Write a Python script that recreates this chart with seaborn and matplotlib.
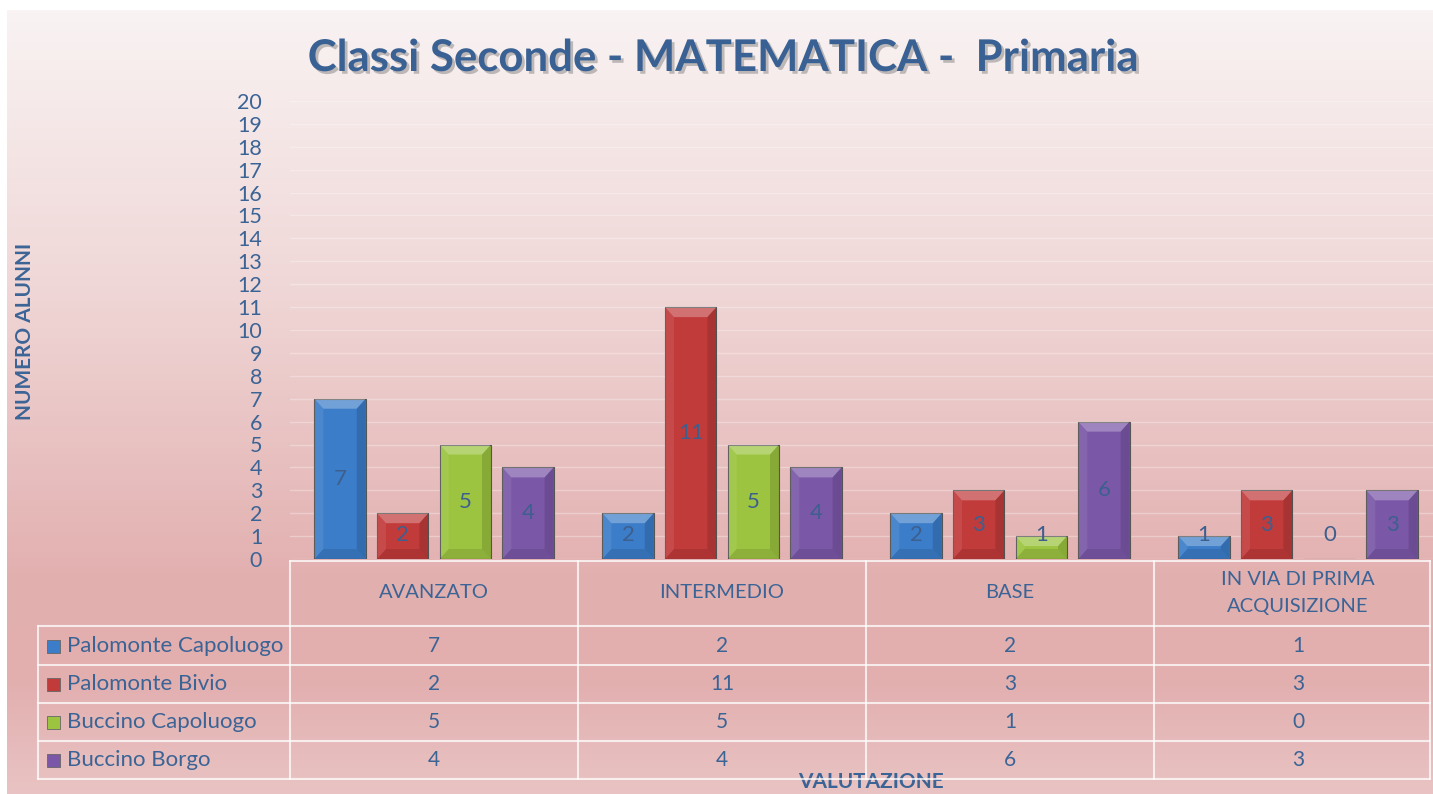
import matplotlib
matplotlib.use("Agg")
import matplotlib.pyplot as plt
import matplotlib.patheffects as pe
from matplotlib.patches import Polygon, Rectangle
from matplotlib.colors import LinearSegmentedColormap
from matplotlib.transforms import blended_transform_factory
import numpy as np
import pandas as pd
import seaborn as sns

categories = ["AVANZATO", "INTERMEDIO", "BASE", "IN VIA DI PRIMA\nACQUISIZIONE"]
series = ["Palomonte Capoluogo", "Palomonte Bivio", "Buccino Capoluogo", "Buccino Borgo"]
palomonte_capoluogo = [7, 2, 2, 1]
palomonte_bivio = [2, 11, 3, 3]
buccino_capoluogo = [5, 5, 1, 0]
buccino_borgo = [4, 4, 6, 3]
colors = ["#3b7dc8", "#c23b3b", "#9cc440", "#7b57a8"]
y_ticks = list(range(0, 21))

values = [palomonte_capoluogo, palomonte_bivio, buccino_capoluogo, buccino_borgo]
df = pd.DataFrame(
    [(c, s, v[i]) for s, v in zip(series, values) for i, c in enumerate(categories)],
    columns=["categoria", "scuola", "alunni"],
)

W, H = 1433, 794
TXT = "#3b6496"
sns.set_theme(style="white")
plt.rcParams["font.family"] = ["Lato", "DejaVu Sans"]

fig = plt.figure(figsize=(W / 100, H / 100), dpi=100)
fig.patch.set_facecolor("white")


def fx(x):
    return x / W


def fy(y):
    return 1 - y / H


# gradient background of the chart area
bg = fig.add_axes([fx(7), fy(794), fx(1426), (794 - 10) / H], zorder=0)
grad = LinearSegmentedColormap.from_list(
    "bg", [(0, "#f9f3f3"), (0.35, "#f0d7d7"), (0.72, "#e3b0b0"), (0.85, "#e2aeae"), (1, "#e9c3c3")]
)
bg.imshow(np.linspace(0, 1, 256).reshape(-1, 1), aspect="auto", cmap=grad, extent=[0, 1, 0, 1])
bg.set_axis_off()

# plot area runs slightly past the right edge of the picture, as in the original
ax = fig.add_axes([fx(290), fy(559), fx(288 * 4), (559 - 101) / H], zorder=1)
ax.patch.set_alpha(0)
sns.barplot(
    data=df, x="categoria", y="alunni", hue="scuola", hue_order=series,
    order=categories, palette=colors, width=0.87, gap=0.18, ax=ax,
    legend=False, saturation=1, edgecolor="#555555", linewidth=0.8, zorder=3,
)
ax.set_xlim(-0.5, len(categories) - 0.5)
ax.set_ylim(0, 20)
ax.set_yticks(y_ticks)
ax.yaxis.grid(True, color="white", alpha=0.3, linewidth=1, zorder=0)
ax.set_axisbelow(True)
ax.tick_params(axis="y", labelsize=15.5, labelcolor=TXT, length=0, pad=20)
ax.set_xticks([])
ax.set_xlabel("")
ax.set_ylabel("")
for sp in ax.spines.values():
    sp.set_visible(False)

# bevel effect and data labels
ppx = 288
ppy = (559 - 101) / 20
bx, by = 9 / ppx, 10 / ppy
for cont in ax.containers:
    for bar in cont:
        x0, w, h = bar.get_x(), bar.get_width(), bar.get_height()
        if h > 0:
            b = min(by, h / 2)
            ax.add_patch(Polygon([(x0, h), (x0 + w, h), (x0 + w - bx, h - b), (x0 + bx, h - b)],
                                 closed=True, facecolor="white", alpha=0.28, lw=0, zorder=4))
            ax.add_patch(Polygon([(x0, 0), (x0 + w, 0), (x0 + w - bx, b), (x0 + bx, b)],
                                 closed=True, facecolor="black", alpha=0.1, lw=0, zorder=4))
            ax.add_patch(Polygon([(x0, 0), (x0, h), (x0 + bx, h - b), (x0 + bx, b)],
                                 closed=True, facecolor="white", alpha=0.08, lw=0, zorder=4))
            ax.add_patch(Polygon([(x0 + w, 0), (x0 + w, h), (x0 + w - bx, h - b), (x0 + w - bx, b)],
                                 closed=True, facecolor="black", alpha=0.13, lw=0, zorder=4))
        ax.text(x0 + w / 2, max(h / 2, 1.05), f"{int(h)}", ha="center", va="center",
                fontsize=16, color="#3d5f8e", zorder=5)

# title and axis titles
fig.text(fx(723), fy(58), "Classi Seconde - MATEMATICA -  Primaria", ha="center", va="center",
         fontsize=31.5, fontweight="bold", color="#3a6193",
         path_effects=[pe.withSimplePatchShadow(offset=(2, -2), shadow_rgbFace="#666666", alpha=0.4)])
fig.text(fx(25), fy(331), "NUMERO ALUNNI", rotation=90, ha="center", va="center",
         fontsize=15, fontweight="bold", color=TXT)
fig.text(fx(871), fy(782), "VALUTAZIONE", ha="center", va="center",
         fontsize=15, fontweight="bold", color=TXT)

# data table
line_kw = dict(color="white", alpha=0.75, linewidth=1.5, transform=fig.transFigure, zorder=6)
rows_y = [626, 665, 703, 741, 779]
fig.add_artist(plt.Line2D([fx(290), fx(1430)], [fy(561), fy(561)], **line_kw))
for y in rows_y:
    fig.add_artist(plt.Line2D([fx(38), fx(1430)], [fy(y), fy(y)], **line_kw))
fig.add_artist(plt.Line2D([fx(38), fx(38)], [fy(626), fy(779)], **line_kw))
for i in range(len(categories)):
    xs = ax.transData.transform((i - 0.5, 0))[0] / fig.bbox.width
    fig.add_artist(plt.Line2D([xs, xs], [fy(561), fy(779)], **line_kw))
fig.add_artist(plt.Line2D([fx(1430), fx(1430)], [fy(561), fy(779)], **line_kw))

tr = blended_transform_factory(ax.transData, fig.transFigure)
for i, c in enumerate(categories):
    fig.text(i, fy(593), c, transform=tr, ha="center", va="center", fontsize=14.5,
             color=TXT, linespacing=1.65)
for r, (s, v, col) in enumerate(zip(series, values, colors)):
    yc = (rows_y[r] + rows_y[r + 1]) / 2
    fig.add_artist(Rectangle((fx(47), fy(yc + 7)), fx(13), 13 / H, facecolor=col,
                             edgecolor="#666666", lw=0.6, transform=fig.transFigure, zorder=7))
    fig.text(fx(67), fy(yc), s, ha="left", va="center", fontsize=16, color=TXT)
    for i, val in enumerate(v):
        fig.text(i, fy(yc), str(val), transform=tr, ha="center", va="center", fontsize=15, color=TXT)

fig.savefig("out.png", dpi=100)
